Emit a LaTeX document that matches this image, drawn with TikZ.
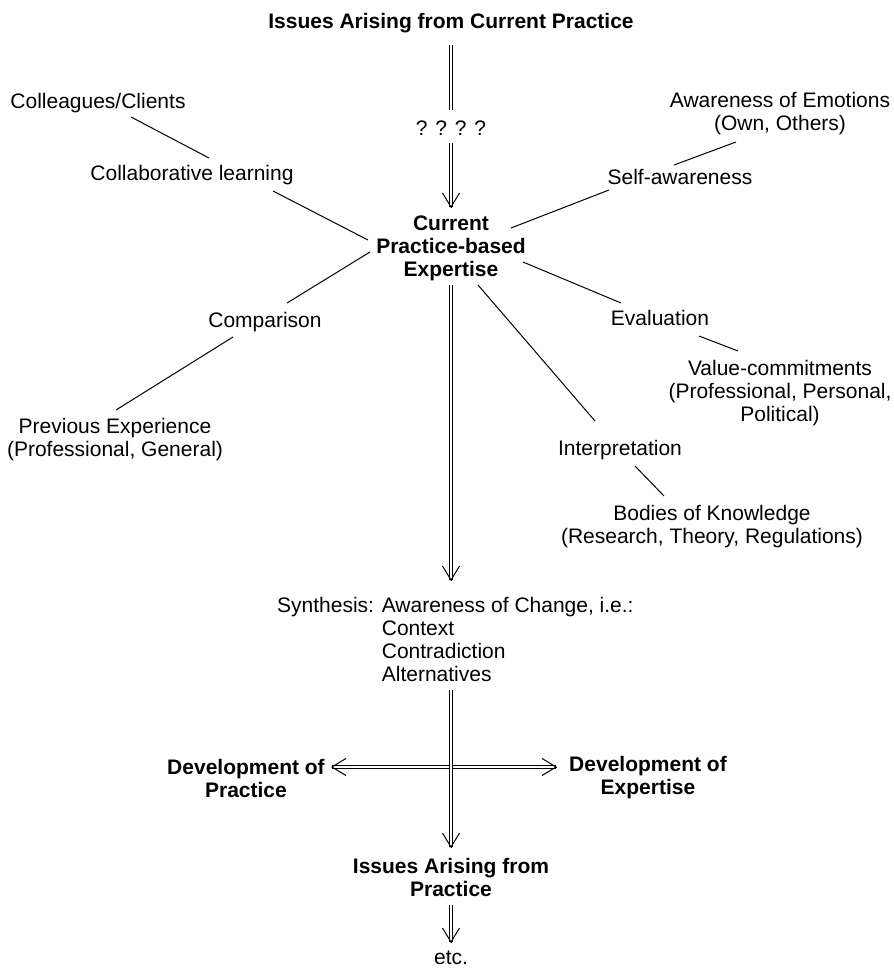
\documentclass[tikz,border=0pt]{standalone}
\usepackage{fontspec}
\setmainfont{Liberation Sans}
\usetikzlibrary{arrows.meta,calc}

\begin{document}
\begin{tikzpicture}[x=1pt, y=-1pt,
  txt/.style={align=center, inner sep=2pt, font=\fontsize{21}{23}\selectfont},
  bld/.style={txt, font=\fontsize{21}{23}\selectfont\bfseries},
  lnk/.style={line width=1pt},
  dbl/.style={double, double distance=2.6pt, line width=0.8pt},
  vhead/.style={line width=1pt, -{Straight Barb[length=14pt,width=17pt]}}]
  \useasboundingbox (0,0) rectangle (894,969);
  % main column
  \node[bld] (top) at (451,23) {Issues Arising from Current Practice};
  \node[txt] (q) at (451,128) {? ? ? ?};
  \node[bld] (cur) at (451,248) {Current\\Practice-based\\Expertise};
  \node[txt, anchor=north west, inner sep=0pt] (syn) at (277,596)
    {\begin{tabular}{@{}l@{ }l@{}}Synthesis: & Awareness of Change, i.e.:\\ & Context\\ & Contradiction\\ & Alternatives\end{tabular}};
  \node[bld] (devp) at (246,778) {Development of\\Practice};
  \node[bld] (deve) at (648,778) {Development of\\Expertise};
  \node[bld] (iss) at (451,877) {Issues Arising from\\Practice};
  \node[txt] (etc) at (451,958) {etc.};
  % spokes
  \node[txt] (colcl) at (98,103) {Colleagues/Clients};
  \node[txt] (collab) at (192,175) {Collaborative learning};
  \node[txt] (emo) at (780,114) {Awareness of Emotions\\(Own, Others)};
  \node[txt] (self) at (680,177) {Self-awareness};
  \node[txt] (comp) at (265,322) {Comparison};
  \node[txt] (prev) at (115,440) {Previous Experience\\(Professional, General)};
  \node[txt] (eval) at (660,318) {Evaluation};
  \node[txt] (value) at (780,393) {Value-commitments\\(Professional, Personal,\\Political)};
  \node[txt] (interp) at (620,450) {Interpretation};
  \node[txt] (bodies) at (712,527) {Bodies of Knowledge\\(Research, Theory, Regulations)};

  \draw[lnk] ([shift={(33,14)}]colcl.center) -- ([shift={(17,-17)}]collab.center);
  \draw[lnk] ([shift={(81,16)}]collab.center) -- ([shift={(-83,-8)}]cur.center);
  \draw[lnk] ([shift={(-81,4)}]cur.center) -- ([shift={(22,-19)}]comp.center);
  \draw[lnk] ([shift={(-32,15)}]comp.center) -- ([shift={(1,-30)}]prev.center);
  \draw[lnk] ([shift={(60,-20)}]cur.center) -- ([shift={(-71,13)}]self.center);
  \draw[lnk] ([shift={(-6,-12)}]self.center) -- ([shift={(-44,28)}]emo.center);
  \draw[lnk] ([shift={(72,14)}]cur.center) -- ([shift={(-39,-15)}]eval.center);
  \draw[lnk] ([shift={(39,18)}]eval.center) -- ([shift={(-42,-42)}]value.center);
  \draw[lnk] ([shift={(27,37)}]cur.center) -- ([shift={(-25,-29)}]interp.center);
  \draw[lnk] ([shift={(15,16)}]interp.center) -- ([shift={(-48,-31)}]bodies.center);

  % double arrows, heads drawn as open V's
  \coordinate (t1) at ([yshift=40pt]cur.center);
  \coordinate (t2) at ($(cur.center |- syn.north)+(0,-15)$);
  \coordinate (t3) at ([yshift=29pt]iss.center);
  \coordinate (t4) at ([yshift=15pt]etc.center);
  \coordinate (tl) at ([shift={(4,-11)}]devp.east);
  \coordinate (tr) at ([shift={(-10,-11)}]deve.west);
  \draw[dbl] ([yshift=-22pt]top.center) -- ([yshift=18pt]q.center);
  \draw[dbl,shorten >=1.5pt] ([yshift=-15pt]q.center) -- (t1);
  \draw[dbl,shorten >=1.5pt] ([yshift=-37pt]cur.center) -- (t2);
  \draw[dbl,shorten <=1.5pt,shorten >=1.5pt] (tl) -- (tr);
  \draw[dbl,shorten >=1.5pt] ($(cur.center |- syn.south)+(0,2)$) -- (t3);
  \draw[dbl,shorten >=1.5pt] ([yshift=-28pt]iss.center) -- (t4);
  \foreach \t in {t1,t2,t3,t4}
    \draw[vhead] ([yshift=1pt]\t) -- (\t);
  \draw[vhead] ([xshift=1pt]tl) -- (tl);
  \draw[vhead] ([xshift=-1pt]tr) -- (tr);
\end{tikzpicture}
\end{document}
